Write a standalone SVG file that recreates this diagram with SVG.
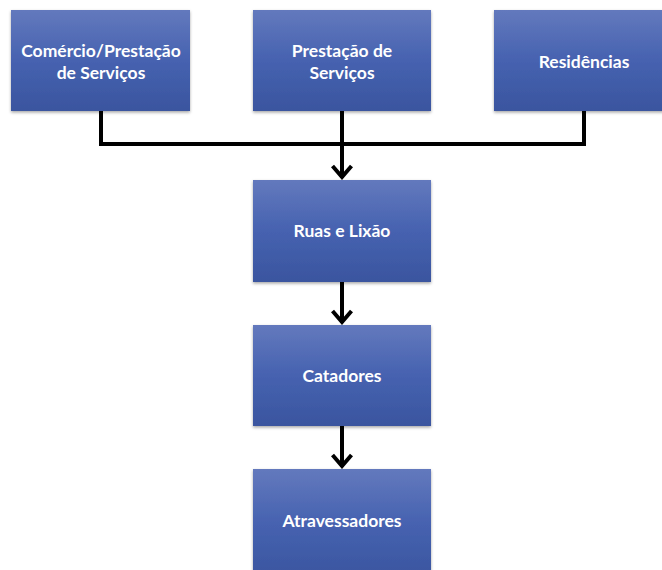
<svg xmlns="http://www.w3.org/2000/svg" width="662" height="570" viewBox="0 0 662 570">
<defs>
<linearGradient id="g" x1="0" y1="0" x2="0" y2="1">
<stop offset="0" stop-color="#6379bd"/>
<stop offset="0.5" stop-color="#4662b0"/>
<stop offset="1" stop-color="#3a559f"/>
</linearGradient>
<filter id="sh" x="-10%" y="-10%" width="120%" height="130%">
<feDropShadow dx="0" dy="1.5" stdDeviation="1.5" flood-color="#000" flood-opacity="0.35"/>
</filter>
<marker id="ah" viewBox="0 0 20 22" refX="18" refY="11" markerWidth="20" markerHeight="22" markerUnits="userSpaceOnUse" orient="auto">
<path d="M6,1.5 L17,11 L6,20.5" fill="none" stroke="#000" stroke-width="4"/>
</marker>
</defs>
<style>
.box{fill:url(#g);filter:url(#sh)}
.t{font-family:Lato,"Open Sans","Liberation Sans",sans-serif;font-weight:bold;font-size:17.5px;fill:#fff;text-anchor:middle}
.c{fill:none;stroke:#000;stroke-width:4}
</style>
<g id="connectors">
<path class="c" d="M101,111 V144 H584 V111"/>
<path class="c" d="M342,111 V178" marker-end="url(#ah)"/>
<path class="c" d="M342,282 V323" marker-end="url(#ah)"/>
<path class="c" d="M342,426 V467" marker-end="url(#ah)"/>
</g>
<g id="n1">
<rect class="box" x="11" y="10" width="179" height="101"/>
<text class="t" x="101" y="57">Comércio/Prestação</text>
<text class="t" x="101" y="79">de Serviços</text>
</g>
<g id="n2">
<rect class="box" x="253" y="10" width="178" height="101"/>
<text class="t" x="342" y="57">Prestação de</text>
<text class="t" x="342" y="79">Serviços</text>
</g>
<g id="n3">
<rect class="box" x="494" y="10" width="179" height="101"/>
<text class="t" x="584" y="68">Residências</text>
</g>
<g id="n4">
<rect class="box" x="253" y="180" width="178" height="102"/>
<text class="t" x="342" y="237">Ruas e Lixão</text>
</g>
<g id="n5">
<rect class="box" x="253" y="325" width="178" height="101"/>
<text class="t" x="342" y="382">Catadores</text>
</g>
<g id="n6">
<rect class="box" x="253" y="469" width="178" height="110"/>
<text class="t" x="342" y="527">Atravessadores</text>
</g>
</svg>
